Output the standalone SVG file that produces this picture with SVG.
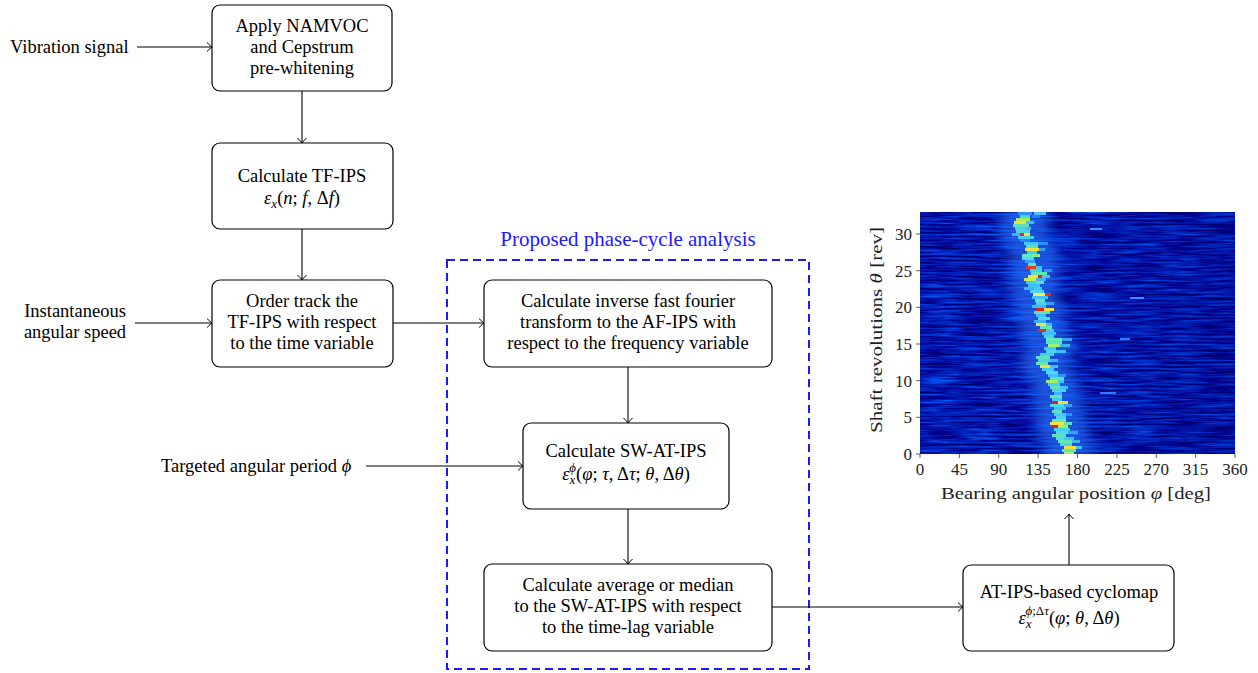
<svg xmlns="http://www.w3.org/2000/svg" width="1258" height="673" viewBox="0 0 1258 673">
<style>
.box{fill:#fff;stroke:#000;stroke-width:1.2}
.t{font-family:"Liberation Serif","Times New Roman",serif;font-size:18.5px;fill:#000}
.c{text-anchor:middle}
.i{font-style:italic}
.ln{fill:none;stroke:#000;stroke-width:1.1}
.ax{font-family:"Liberation Serif","Times New Roman",serif;font-size:17px;fill:#222}
.tk{stroke:#333;stroke-width:0.8}
</style>
<defs>
<marker id="ah" viewBox="-6 -6 8 12" refX="0" refY="0" markerWidth="8" markerHeight="12" markerUnits="userSpaceOnUse" orient="auto">
<path d="M-5,-4.5 Q-1.5,-1 0,0 Q-1.5,1 -5,4.5" fill="none" stroke="#000" stroke-width="1"/>
</marker>
<filter id="noise" x="920" y="212" width="315" height="242" filterUnits="userSpaceOnUse" color-interpolation-filters="sRGB">
<feTurbulence type="fractalNoise" baseFrequency="0.025 0.5" numOctaves="3" seed="11" result="n"/>
<feColorMatrix in="n" type="matrix" values="0 0 0 0 0  0.8 0 0 0 -0.3  1.0 0 0 0 0.2  0 0 0 0 1"/>
</filter>
<filter id="blur" x="-20%" y="-5%" width="140%" height="110%"><feGaussianBlur stdDeviation="7 1"/></filter>
<clipPath id="plot"><rect x="920" y="212" width="315" height="242"/></clipPath>
<linearGradient id="dark" x1="0" y1="0" x2="1" y2="0">
<stop offset="0" stop-color="#000070" stop-opacity="0.08"/>
<stop offset="0.6" stop-color="#000070" stop-opacity="0.15"/>
<stop offset="1" stop-color="#000070" stop-opacity="0.3"/>
</linearGradient>
</defs>

<!-- cyclomap heatmap -->
<g id="cyclomap">
<g clip-path="url(#plot)">
<rect x="920" y="212" width="315" height="242" fill="#0018b0" filter="url(#noise)"/>
<rect x="920" y="212" width="315" height="242" fill="url(#dark)"/>
<polygon filter="url(#blur)" fill="#2f7cff" opacity="0.6" points="1002,212 998,234 1010,256 1010,293 1016,308 1018,330 1026,344 1020,366 1030,381 1034,403 1036,425 1040,439 1046,454 1096,454 1090,439 1086,425 1082,403 1078,381 1070,366 1076,344 1066,330 1064,308 1058,293 1060,271 1058,256 1048,234 1050,212"/>
<g shape-rendering="crispEdges">
<rect x="1018" y="212" width="14" height="3" fill="#3090ff"/><rect x="1034" y="212" width="12" height="3" fill="#50c0ff"/>
<rect x="1020" y="215" width="10" height="3" fill="#40e0e0"/><rect x="1032" y="215" width="8" height="3" fill="#2080ff"/>
<rect x="1016" y="218" width="14" height="3" fill="#a0f060"/>
<rect x="1014" y="221" width="12" height="3" fill="#f0e040"/><rect x="1026" y="221" width="8" height="3" fill="#40c0ff"/>
<rect x="1013" y="224" width="16" height="3" fill="#60e0c0"/>
<rect x="1015" y="227" width="10" height="3" fill="#50d0f0"/><rect x="1025" y="227" width="6" height="3" fill="#40c0ff"/>
<rect x="1016" y="230" width="14" height="3" fill="#50d0e0"/>
<rect x="1012" y="233" width="8" height="3" fill="#40b0ff"/><rect x="1020" y="233" width="4" height="3" fill="#e03010"/><rect x="1024" y="233" width="6" height="3" fill="#f0e040"/>
<rect x="1018" y="236" width="16" height="3" fill="#40d0f0"/>
<rect x="1020" y="239" width="10" height="3" fill="#2a80ff"/>
<rect x="1024" y="242" width="14" height="3" fill="#40c8ff"/><rect x="1038" y="242" width="10" height="3" fill="#3090ff"/>
<rect x="1026" y="245" width="12" height="3" fill="#60e0b0"/>
<rect x="1025" y="248" width="14" height="3" fill="#f0e040"/><rect x="1039" y="248" width="6" height="3" fill="#30a0ff"/>
<rect x="1027" y="251" width="10" height="3" fill="#40d0ff"/>
<rect x="1022" y="254" width="10" height="3" fill="#60e8c0"/><rect x="1032" y="254" width="8" height="3" fill="#80f090"/>
<rect x="1022" y="257" width="12" height="3" fill="#50d8f0"/>
<rect x="1025" y="260" width="10" height="3" fill="#3aa0ff"/>
<rect x="1028" y="263" width="8" height="3" fill="#60e0d0"/>
<rect x="1026" y="266" width="10" height="3" fill="#e04020"/><rect x="1036" y="266" width="6" height="3" fill="#40c0ff"/>
<rect x="1030" y="269" width="12" height="3" fill="#40d0f0"/><rect x="1044" y="269" width="8" height="3" fill="#3090ff"/>
<rect x="1031" y="272" width="16" height="3" fill="#60e8b0"/>
<rect x="1028" y="275" width="10" height="3" fill="#f0e040"/><rect x="1038" y="275" width="4" height="3" fill="#e02010"/><rect x="1042" y="275" width="8" height="3" fill="#50c0ff"/>
<rect x="1024" y="278" width="12" height="3" fill="#c0f050"/><rect x="1036" y="278" width="10" height="3" fill="#40b0ff"/>
<rect x="1026" y="281" width="10" height="3" fill="#40c8ff"/><rect x="1036" y="281" width="8" height="3" fill="#60e0c0"/>
<rect x="1028" y="284" width="12" height="3" fill="#40c0ff"/>
<rect x="1024" y="287" width="10" height="3" fill="#40b0ff"/><rect x="1034" y="287" width="8" height="3" fill="#40c8ff"/>
<rect x="1030" y="290" width="14" height="3" fill="#50d0f0"/>
<rect x="1033" y="293" width="12" height="3" fill="#f0f050"/><rect x="1045" y="293" width="6" height="3" fill="#e03020"/>
<rect x="1032" y="296" width="16" height="3" fill="#40c0ff"/>
<rect x="1035" y="299" width="10" height="3" fill="#60e0c0"/>
<rect x="1036" y="302" width="10" height="3" fill="#50d0f0"/><rect x="1046" y="302" width="8" height="3" fill="#3aa0ff"/>
<rect x="1032" y="305" width="14" height="3" fill="#40b8ff"/>
<rect x="1036" y="308" width="8" height="3" fill="#e02010"/><rect x="1044" y="308" width="10" height="3" fill="#f0e040"/>
<rect x="1034" y="311" width="16" height="3" fill="#60e0c0"/>
<rect x="1036" y="314" width="10" height="3" fill="#40c0ff"/>
<rect x="1038" y="317" width="12" height="3" fill="#50d8f0"/>
<rect x="1034" y="320" width="12" height="3" fill="#40b0ff"/>
<rect x="1036" y="323" width="10" height="3" fill="#f0e040"/><rect x="1046" y="323" width="6" height="3" fill="#40c0ff"/>
<rect x="1040" y="326" width="12" height="3" fill="#60e8b0"/>
<rect x="1038" y="329" width="8" height="3" fill="#e03020"/><rect x="1046" y="329" width="8" height="3" fill="#50c0ff"/>
<rect x="1042" y="332" width="14" height="3" fill="#40c0ff"/>
<rect x="1044" y="335" width="10" height="3" fill="#50d0f0"/>
<rect x="1046" y="338" width="16" height="3" fill="#60e8c0"/><rect x="1062" y="338" width="10" height="3" fill="#3aa0ff"/>
<rect x="1046" y="341" width="8" height="3" fill="#60e0c0"/><rect x="1054" y="341" width="8" height="3" fill="#60e0c0"/>
<rect x="1048" y="344" width="12" height="3" fill="#a0f070"/><rect x="1060" y="344" width="10" height="3" fill="#40b0ff"/>
<rect x="1044" y="347" width="12" height="3" fill="#40c8ff"/>
<rect x="1046" y="350" width="10" height="3" fill="#50d0f0"/><rect x="1056" y="350" width="10" height="3" fill="#40c0ff"/>
<rect x="1040" y="353" width="14" height="3" fill="#40d0f0"/>
<rect x="1036" y="356" width="14" height="3" fill="#60e0c0"/>
<rect x="1038" y="359" width="12" height="3" fill="#50d0f0"/><rect x="1050" y="359" width="8" height="3" fill="#40b0ff"/>
<rect x="1036" y="362" width="12" height="3" fill="#60e8b0"/>
<rect x="1040" y="365" width="10" height="3" fill="#f0e040"/><rect x="1050" y="365" width="8" height="3" fill="#40c0ff"/>
<rect x="1042" y="368" width="12" height="3" fill="#40c8ff"/>
<rect x="1046" y="371" width="12" height="3" fill="#50d8f0"/>
<rect x="1048" y="374" width="10" height="3" fill="#40c0ff"/><rect x="1058" y="374" width="8" height="3" fill="#3090ff"/>
<rect x="1050" y="377" width="14" height="3" fill="#60e0c0"/>
<rect x="1046" y="380" width="12" height="3" fill="#a0f060"/><rect x="1058" y="380" width="6" height="3" fill="#40c0ff"/>
<rect x="1048" y="383" width="12" height="3" fill="#40d0f0"/>
<rect x="1050" y="386" width="10" height="3" fill="#60e0c0"/><rect x="1060" y="386" width="8" height="3" fill="#40c0ff"/>
<rect x="1052" y="389" width="14" height="3" fill="#50d0f0"/>
<rect x="1054" y="392" width="8" height="3" fill="#40b0ff"/>
<rect x="1050" y="395" width="12" height="3" fill="#60e8b0"/>
<rect x="1052" y="398" width="10" height="3" fill="#40c8ff"/>
<rect x="1052" y="401" width="6" height="3" fill="#e02010"/><rect x="1058" y="401" width="10" height="3" fill="#f0e040"/>
<rect x="1050" y="404" width="14" height="3" fill="#50d8f0"/><rect x="1064" y="404" width="8" height="3" fill="#3aa0ff"/>
<rect x="1054" y="407" width="12" height="3" fill="#40c0ff"/>
<rect x="1052" y="410" width="10" height="3" fill="#60e0c0"/>
<rect x="1054" y="413" width="12" height="3" fill="#40c8ff"/><rect x="1066" y="413" width="6" height="3" fill="#3090ff"/>
<rect x="1056" y="416" width="10" height="3" fill="#50d0f0"/>
<rect x="1052" y="419" width="14" height="3" fill="#60e8c0"/>
<rect x="1050" y="422" width="14" height="3" fill="#f0e040"/><rect x="1064" y="422" width="8" height="3" fill="#60e0c0"/>
<rect x="1052" y="425" width="6" height="3" fill="#e02010"/><rect x="1058" y="425" width="10" height="3" fill="#a0f060"/>
<rect x="1054" y="428" width="16" height="3" fill="#40d0f0"/>
<rect x="1056" y="431" width="12" height="3" fill="#50d8f0"/><rect x="1068" y="431" width="10" height="3" fill="#3aa0ff"/>
<rect x="1052" y="434" width="14" height="3" fill="#60e0c0"/>
<rect x="1056" y="437" width="8" height="3" fill="#50d8f0"/><rect x="1064" y="437" width="10" height="3" fill="#40c0ff"/>
<rect x="1058" y="440" width="14" height="3" fill="#60e8b0"/><rect x="1072" y="440" width="8" height="3" fill="#40b0ff"/>
<rect x="1060" y="443" width="12" height="3" fill="#50d0f0"/>
<rect x="1064" y="446" width="12" height="3" fill="#f0e040"/><rect x="1076" y="446" width="6" height="3" fill="#40c0ff"/>
<rect x="1062" y="449" width="14" height="3" fill="#60e8b0"/>
<rect x="1064" y="452" width="10" height="2" fill="#a0f060"/>
<rect x="1130" y="297" width="14" height="2" fill="#3a8cff"/><rect x="1090" y="228" width="12" height="2" fill="#3a8cff"/>
<rect x="1120" y="338" width="10" height="2" fill="#2f7cff"/><rect x="1100" y="392" width="16" height="2" fill="#2f7cff"/>
</g>
</g>
<g class="tk">
<line x1="920" y1="454" x2="920" y2="458"/><line x1="959.4" y1="454" x2="959.4" y2="458"/><line x1="998.75" y1="454" x2="998.75" y2="458"/><line x1="1038.1" y1="454" x2="1038.1" y2="458"/><line x1="1077.5" y1="454" x2="1077.5" y2="458"/><line x1="1116.9" y1="454" x2="1116.9" y2="458"/><line x1="1156.25" y1="454" x2="1156.25" y2="458"/><line x1="1195.6" y1="454" x2="1195.6" y2="458"/><line x1="1235" y1="454" x2="1235" y2="458"/>
<line x1="916" y1="454" x2="920" y2="454"/><line x1="916" y1="417.3" x2="920" y2="417.3"/><line x1="916" y1="380.7" x2="920" y2="380.7"/><line x1="916" y1="344" x2="920" y2="344"/><line x1="916" y1="307.3" x2="920" y2="307.3"/><line x1="916" y1="270.7" x2="920" y2="270.7"/><line x1="916" y1="234" x2="920" y2="234"/>
</g>
<g class="ax" text-anchor="middle">
<text x="920" y="475">0</text><text x="959.4" y="475">45</text><text x="998.75" y="475">90</text><text x="1038.1" y="475">135</text><text x="1077.5" y="475">180</text><text x="1116.9" y="475">225</text><text x="1156.25" y="475">270</text><text x="1195.6" y="475">315</text><text x="1235" y="475">360</text>
</g>
<g class="ax" text-anchor="end">
<text x="912" y="460">0</text><text x="912" y="423.3">5</text><text x="912" y="386.7">10</text><text x="912" y="350">15</text><text x="912" y="313.3">20</text><text x="912" y="276.7">25</text><text x="912" y="240">30</text>
</g>
<text class="ax" x="1076" y="499" text-anchor="middle" font-size="19" textLength="270" lengthAdjust="spacingAndGlyphs">Bearing angular position <tspan font-style="italic">φ</tspan> [deg]</text>
<text class="ax" transform="translate(882,330) rotate(-90)" text-anchor="middle" font-size="19" textLength="206" lengthAdjust="spacingAndGlyphs">Shaft revolutions <tspan font-style="italic">θ</tspan> [rev]</text>
</g>

<!-- dashed region -->
<g id="region">
<rect x="447" y="260" width="362" height="409" fill="none" stroke="#1a1aff" stroke-width="2" stroke-dasharray="8,5"/>
<text class="t c" x="628" y="246" style="fill:#1a1aff;font-size:21px">Proposed phase-cycle analysis</text>
</g>

<!-- connectors -->
<g id="connectors" class="ln">
<line x1="137" y1="47" x2="212" y2="47" marker-end="url(#ah)"/>
<line x1="302" y1="91" x2="302" y2="143" marker-end="url(#ah)"/>
<line x1="302" y1="229" x2="302" y2="280" marker-end="url(#ah)"/>
<line x1="135" y1="323" x2="212" y2="323" marker-end="url(#ah)"/>
<line x1="393" y1="323" x2="484" y2="323" marker-end="url(#ah)"/>
<line x1="628" y1="367" x2="628" y2="423" marker-end="url(#ah)"/>
<line x1="366" y1="466" x2="523" y2="466" marker-end="url(#ah)"/>
<line x1="628" y1="509" x2="628" y2="564" marker-end="url(#ah)"/>
<line x1="772" y1="607" x2="963" y2="607" marker-end="url(#ah)"/>
<line x1="1069" y1="565" x2="1069" y2="514" marker-end="url(#ah)"/>
</g>

<!-- input labels -->
<g id="in-vibration"><text class="t" x="10" y="53">Vibration signal</text></g>
<g id="in-speed"><text class="t c" x="75" y="317">Instantaneous</text><text class="t c" x="75" y="338">angular speed</text></g>
<g id="in-period"><text class="t" x="161" y="472">Targeted angular period <tspan class="i">ϕ</tspan></text></g>

<!-- nodes -->
<g id="n1"><rect class="box" x="212" y="5" width="180" height="86" rx="8"/>
<text class="t c" x="302" y="32">Apply NAMVOC</text><text class="t c" x="302" y="53">and Cepstrum</text><text class="t c" x="302" y="74">pre-whitening</text></g>

<g id="n2"><rect class="box" x="212" y="143" width="181" height="86" rx="8"/>
<text class="t c" x="302" y="182">Calculate TF-IPS</text>
<text class="t c" x="302" y="204"><tspan class="i">ε</tspan><tspan class="i" font-size="13" dy="4">x</tspan><tspan dy="-4">(</tspan><tspan class="i">n</tspan>; <tspan class="i">f</tspan>, Δ<tspan class="i">f</tspan>)</text></g>

<g id="n3"><rect class="box" x="212" y="280" width="181" height="87" rx="8"/>
<text class="t c" x="302" y="307">Order track the</text><text class="t c" x="302" y="328">TF-IPS with respect</text><text class="t c" x="302" y="349">to the time variable</text></g>

<g id="n4"><rect class="box" x="484" y="280" width="288" height="87" rx="8"/>
<text class="t c" x="628" y="307">Calculate inverse fast fourier</text><text class="t c" x="628" y="328">transform to the AF-IPS with</text><text class="t c" x="628" y="349">respect to the frequency variable</text></g>

<g id="n5"><rect class="box" x="523" y="423" width="206" height="86" rx="8"/>
<text class="t c" x="626" y="457">Calculate SW-AT-IPS</text>
<text class="t c" x="626" y="480"><tspan class="i">ε</tspan><tspan class="i" font-size="13" dy="4">x</tspan><tspan class="i" font-size="13" dx="-6" dy="-12">ϕ</tspan><tspan dy="8">(</tspan><tspan class="i">φ</tspan>; <tspan class="i">τ</tspan>, Δ<tspan class="i">τ</tspan>; <tspan class="i">θ</tspan>, Δ<tspan class="i">θ</tspan>)</text></g>

<g id="n6"><rect class="box" x="484" y="564" width="288" height="87" rx="8"/>
<text class="t c" x="628" y="591">Calculate average or median</text><text class="t c" x="628" y="612">to the SW-AT-IPS with respect</text><text class="t c" x="628" y="633">to the time-lag variable</text></g>

<g id="n7"><rect class="box" x="963" y="565" width="211" height="86" rx="8"/>
<text class="t c" x="1069" y="598">AT-IPS-based cyclomap</text>
<text class="t c" x="1069" y="624"><tspan class="i">ε</tspan><tspan class="i" font-size="13" dy="4">x</tspan><tspan font-size="13" dx="-6" dy="-13"><tspan class="i">ϕ</tspan>;Δ<tspan class="i">τ</tspan></tspan><tspan dy="9">(</tspan><tspan class="i">φ</tspan>; <tspan class="i">θ</tspan>, Δ<tspan class="i">θ</tspan>)</text></g>
</svg>
